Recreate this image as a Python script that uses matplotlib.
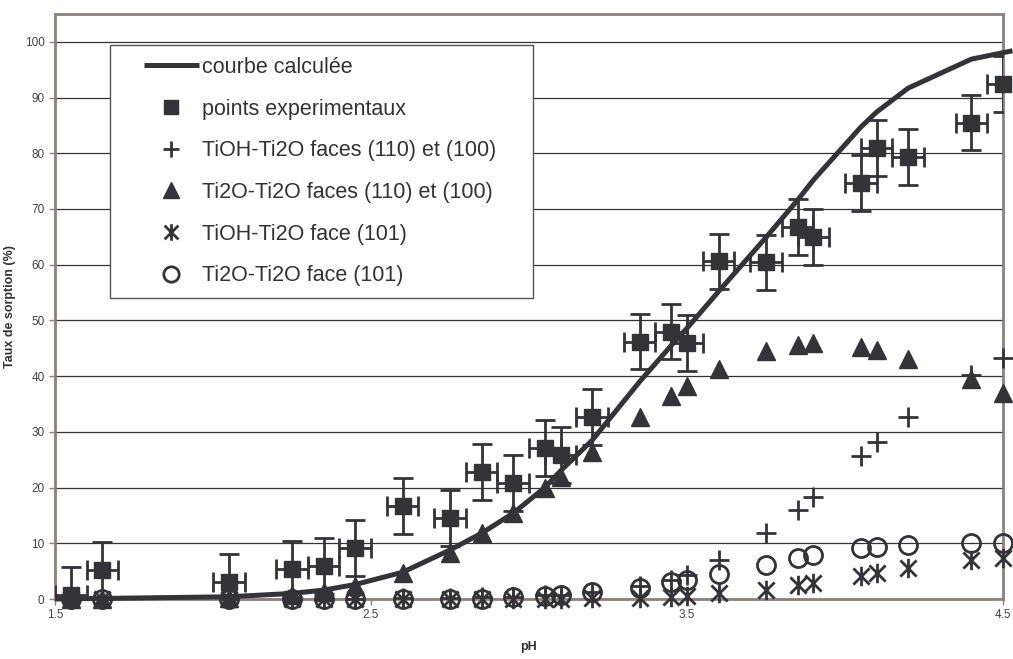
import numpy as np
import matplotlib
matplotlib.use('Agg')
import matplotlib.pyplot as plt
from matplotlib.path import Path
from matplotlib.patches import Rectangle

plt.rcParams['font.family'] = ['Liberation Sans', 'DejaVu Sans']

# pH values shared by every series
ph = [1.55, 1.65, 2.05, 2.25, 2.35, 2.45, 2.60, 2.75, 2.85, 2.95, 3.05, 3.10, 3.20,
      3.35, 3.45, 3.50, 3.60, 3.75, 3.85, 3.90, 4.05, 4.10, 4.20, 4.40, 4.50]

# experimental sorption (%) with error bars
exp_vals = [0.8, 5.2, 3.0, 5.4, 5.9, 9.2, 16.7, 14.5, 22.8, 20.8, 27.1, 25.9, 32.7,
            46.2, 48.0, 46.0, 60.6, 60.4, 66.8, 65.0, 74.7, 81.0, 79.3, 85.5, 92.4]
exp_yerr = 5.0
exp_xerr = 0.05

# calculated curve
curve_ph = [1.50, 1.55, 1.65, 2.05, 2.25, 2.35, 2.45, 2.60, 2.75, 2.85, 2.95, 3.05, 3.10,
            3.20, 3.35, 3.45, 3.50, 3.60, 3.75, 3.85, 3.90, 4.05, 4.10, 4.20, 4.40, 4.53]
curve_vals = [0.0, 0.05, 0.1, 0.4, 1.0, 1.6, 2.6, 4.8, 8.8, 11.8, 15.4, 20.0, 23.0,
              28.5, 39.0, 45.5, 48.6, 55.2, 64.9, 71.6, 75.2, 84.7, 87.4, 91.7, 96.9, 98.4]

# site contributions
tioh_110 = [0, 0, 0, 0, 0, 0, 0.1, 0.2, 0.3, 0.4, 0.7, 0.8, 1.2,
            2.3, 3.5, 4.3, 7.0, 11.8, 16.0, 18.3, 25.7, 28.2, 32.7, 40.2, 43.3]
ti2o_110 = [0, 0, 0.2, 0.7, 1.3, 2.4, 4.6, 8.3, 11.8, 15.4, 19.9, 21.9, 26.4,
            32.7, 36.5, 38.3, 41.3, 44.5, 45.6, 45.9, 45.2, 44.7, 43.1, 39.5, 37.0]
tioh_101 = [0, 0, 0, 0, 0, 0, 0, 0, 0, 0, 0, 0, 0.1,
            0.2, 0.3, 0.5, 1.0, 1.7, 2.5, 2.8, 4.1, 4.6, 5.5, 7.0, 7.4]
ti2o_101 = [0, 0, 0, 0, 0, 0, 0, 0, 0, 0.3, 0.6, 0.7, 1.2,
            2.0, 3.0, 3.5, 4.4, 6.1, 7.3, 7.9, 9.1, 9.3, 9.7, 10.0, 10.0]

labels = ['courbe calculée', 'points experimentaux', 'TiOH-Ti2O faces (110) et (100)',
          'Ti2O-Ti2O faces (110) et (100)', 'TiOH-Ti2O face (101)', 'Ti2O-Ti2O face (101)']

dark = '#343338'
frame_col = '#8c817d'

# Excel-like star: X plus a vertical bar
star = Path([(-1, -1), (1, 1), (-1, 1), (1, -1), (0, -1.2), (0, 1.2)],
            [Path.MOVETO, Path.LINETO] * 3)

fig = plt.figure(figsize=(10.13, 6.59), dpi=100)
ax = fig.add_axes([55 / 1013, 1 - 599 / 659, (1003 - 55) / 1013, (599 - 14) / 659])

ax.set_xlim(1.5, 4.5)
ax.set_ylim(0, 105)
ax.set_xticks([1.5, 2.5, 3.5, 4.5])
ax.set_xticklabels(['1.5', '2.5', '3.5', '4.5'])
ax.set_yticks(np.arange(0, 101, 10))
ax.tick_params(axis='both', labelsize=8.5, colors='#444444', length=4, width=1)
ax.tick_params(axis='both', color=frame_col)
ax.yaxis.grid(True, color='#333333', lw=0.9)
ax.set_axisbelow(True)
for s in ax.spines.values():
    s.set_color(frame_col)
    s.set_linewidth(2)

ax.set_xlabel('pH', fontsize=9, fontweight='bold', color='#333333', labelpad=14)
ax.set_ylabel('Taux de sorption (%)', fontsize=9, fontweight='bold', color='#333333', labelpad=6)

h_curve, = ax.plot(curve_ph, curve_vals, color=dark, lw=3.6, clip_on=False, zorder=4,
                   solid_capstyle='butt')
ax.errorbar(ph, exp_vals, yerr=exp_yerr, xerr=exp_xerr, fmt='none', ecolor=dark,
            elinewidth=2, capsize=7, capthick=2, zorder=5)
h_sq, = ax.plot(ph, exp_vals, 's', color=dark, ms=12, ls='none', zorder=6, clip_on=False)
h_plus, = ax.plot(ph, tioh_110, '+', color=dark, ms=14, mew=2, ls='none', zorder=6, clip_on=False)
h_tri, = ax.plot(ph, ti2o_110, '^', color=dark, ms=13, ls='none', zorder=6, clip_on=False)
h_star, = ax.plot(ph, tioh_101, marker=star, color=dark, ms=14, mew=2, ls='none', zorder=6,
                  clip_on=False)
h_circ, = ax.plot(ph, ti2o_101, 'o', mfc='none', mec=dark, ms=13, mew=2, ls='none', zorder=6,
                  clip_on=False)

handles = [h_curve, h_sq, h_plus, h_tri, h_star, h_circ]
leg = ax.legend(handles, labels, loc='upper left', bbox_to_anchor=(132 / 1013, 1 - 45 / 659),
                bbox_transform=fig.transFigure, borderaxespad=0, frameon=False,
                fontsize=15.5, labelspacing=0.96, handlelength=2.55, handletextpad=0.15,
                borderpad=0.55, markerscale=0.85)
leg.set_zorder(10)
for t in leg.get_texts():
    t.set_color('#333333')

fig.canvas.draw()
bb = leg.get_window_extent()
x0, y0 = fig.transFigure.inverted().transform((bb.x0 - 22, bb.y0))
x1, y1 = fig.transFigure.inverted().transform((bb.x1 + 25, bb.y1))
box = Rectangle((x0, y0), x1 - x0, y1 - y0, transform=fig.transFigure, facecolor='white',
                edgecolor='#555555', lw=1, zorder=9)
ax.add_artist(box)

fig.savefig('out.png', dpi=100)
